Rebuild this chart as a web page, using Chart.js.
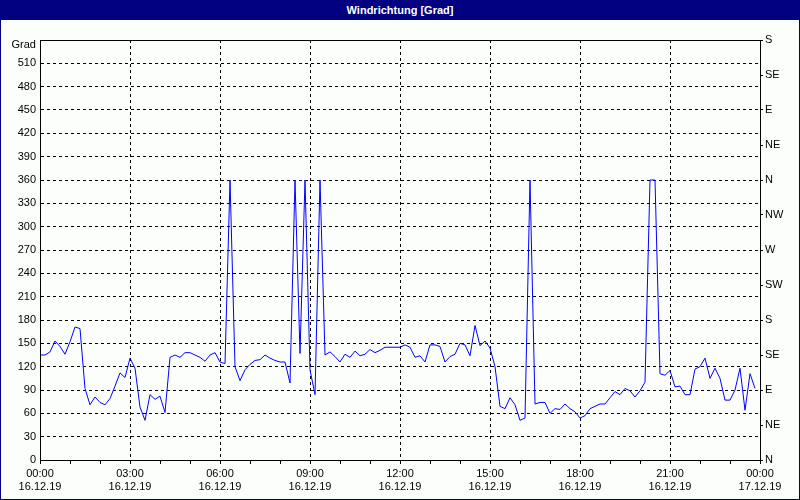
<!DOCTYPE html>
<html>
<head>
<meta charset="utf-8">
<script src="https://cdn.jsdelivr.net/npm/chart.js@4"></script>
<style>
  html, body { margin: 0; padding: 0; }
  body { width: 800px; height: 500px; background: #fcfefc; position: relative; overflow: hidden; }
  #frame { position: absolute; left: 0; top: 0; width: 798px; height: 499px; border: 1px solid #000080; border-top: none; pointer-events: none; }
  #titlebar { position: absolute; left: 0; top: 0; width: 800px; height: 20px; background: #000080; color: #fff;
    font: bold 11px "Liberation Sans", sans-serif; text-align: center; line-height: 20px; }
  #unit { position: absolute; right: 764px; top: 38px; font: 11px "Liberation Sans", sans-serif; color: #000; }
  canvas { position: absolute; left: 0; top: 0; }
</style>
</head>
<body>
<canvas id="windChart" width="800" height="500"></canvas>
<div id="titlebar">Windrichtung [Grad]</div>
<div id="unit">Grad</div>
<div id="frame"></div>
<script>
// 10-minute samples, 16.12.19 00:00 .. 23:50
const sampleMinutes = 10;
const direction = [
  135, 135, 139, 153, 146, 136,
  152, 171, 169, 92, 71, 81,
  74, 71, 79, 95, 112, 106,
  131, 118, 68, 51, 84, 78,
  82, 61, 132, 135, 132, 138,
  138, 135, 132, 127, 135, 138,
  126, 124, 360, 120, 102, 116,
  123, 128, 129, 135, 131, 128,
  126, 126, 99, 360, 137, 360,
  116, 84, 360, 135, 139, 133,
  126, 136, 132, 140, 134, 136,
  142, 138, 141, 145, 145, 145,
  145, 148, 145, 132, 134, 126,
  148, 148, 146, 126, 133, 136,
  150, 148, 134, 173, 147, 153,
  144, 120, 69, 66, 80, 71,
  51, 54, 360, 72, 74, 74,
  60, 66, 65, 72, 66, 62,
  54, 57, 66, 69, 72, 72,
  80, 88, 84, 92, 89, 81,
  89, 100, 360, 360, 111, 109,
  115, 94, 95, 84, 84, 117,
  120, 131, 105, 118, 105, 77,
  77, 90, 118, 64, 111, 92
];
const compass = ['N', 'NE', 'E', 'SE', 'S', 'SW', 'W', 'NW'];
const dayLabels = ['16.12.19', '17.12.19'];

const points = direction.map((v, i) => ({ x: i * sampleMinutes, y: v }));
const fontSpec = { family: 'Liberation Sans', size: 11 };

function pad2(n) { return String(n).padStart(2, '0'); }

// solid frame round the plot area (top edge has no axis)
const plotFrame = {
  id: 'plotFrame',
  afterDraw(chart) {
    const { ctx, chartArea: a } = chart;
    ctx.save();
    ctx.strokeStyle = '#000';
    ctx.lineWidth = 1;
    ctx.strokeRect(a.left + 0.5, a.top + 0.5, a.right - a.left, a.bottom - a.top);
    ctx.restore();
  }
};

new Chart(document.getElementById('windChart'), {
  type: 'line',
  data: {
    datasets: [{
      data: points,
      borderColor: '#0000ff',
      borderWidth: 1,
      pointRadius: 0,
      tension: 0,
      fill: false
    }]
  },
  options: {
    responsive: false,
    animation: false,
    devicePixelRatio: 1,
    layout: { padding: { top: 40, left: 0, right: 0, bottom: 0 } },
    plugins: { legend: { display: false }, tooltip: { enabled: false } },
    scales: {
      x: {
        type: 'linear',
        min: 0,
        max: 1440,
        afterFit(s) { s.height = 40; },
        ticks: {
          stepSize: 60,
          autoSkip: false,
          maxRotation: 0,
          padding: 3,
          color: '#000',
          font: fontSpec,
          callback(v) {
            if (v % 180 !== 0) return '';
            const h = (v / 60) % 24;
            return [pad2(h) + ':00', dayLabels[v >= 1440 ? 1 : 0]];
          }
        },
        grid: {
          color: c => (c.tick && c.tick.value % 180 === 0) ? '#000' : 'rgba(0,0,0,0)',
          tickColor: '#000',
          tickLength: 4,
          lineWidth: 1
        },
        border: { display: true, color: '#000', dash: [3, 3] }
      },
      y: {
        position: 'left',
        min: 0,
        max: 540,
        afterFit(s) { s.width = 40; },
        ticks: {
          stepSize: 30,
          padding: 4,
          color: '#000',
          font: fontSpec,
          callback: v => (v >= 540 ? '' : String(v))
        },
        grid: { color: '#000', drawTicks: false, lineWidth: 1 },
        border: { display: true, color: '#000', dash: [3, 3] }
      },
      y2: {
        position: 'right',
        min: 0,
        max: 540,
        afterFit(s) { s.width = 40; },
        ticks: {
          stepSize: 45,
          padding: 2,
          color: '#000',
          font: fontSpec,
          callback: v => compass[(v / 45) % 8]
        },
        grid: { drawOnChartArea: false, tickColor: '#000', tickLength: 3 },
        border: { display: true, color: '#000' }
      }
    }
  },
  plugins: [plotFrame]
});
</script>
</body>
</html>
